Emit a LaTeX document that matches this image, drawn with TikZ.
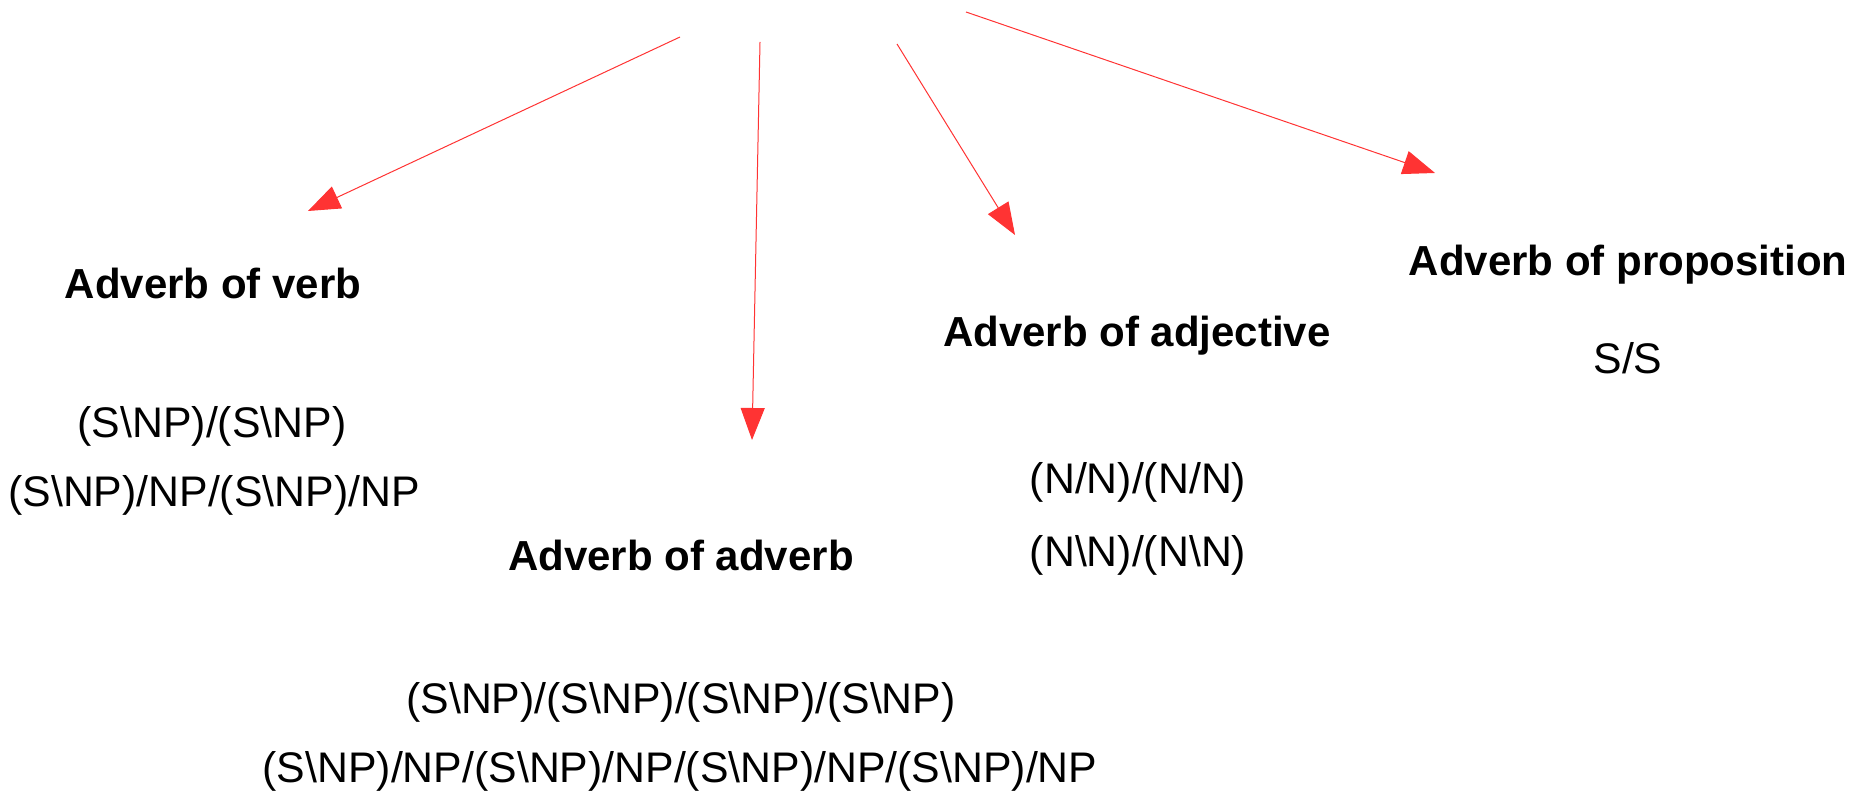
\documentclass[tikz,border=0pt]{standalone}
\usepackage{fontspec}
\setmainfont{Liberation Sans}
\usetikzlibrary{arrows.meta}
\definecolor{arrowred}{HTML}{FF3333}

\begin{document}
\begin{tikzpicture}[
          x=0.5pt, y=-0.5pt,
          title/.style = {font=\fontsize{21}{25}\selectfont\bfseries, inner sep=0pt},
          cat/.style = {font=\fontsize{21.4}{25}\selectfont, inner sep=0pt},
          arrow/.style = {draw=arrowred, line width=0.5pt, -{Triangle[length=16pt, width=12pt, fill=arrowred]}}
        ]
        \useasboundingbox (0,0) rectangle (1871,795);

        % Nodes
        \node[title] (verb) at (213,283) {Adverb of verb};
        \node[cat] (verbone) at (212,426) {(S\textbackslash NP)/(S\textbackslash NP)};
        \node[cat] (verbtwo) at (214,495) {(S\textbackslash NP)/NP/(S\textbackslash NP)/NP};

        \node[title] (adverb) at (681,555) {Adverb of adverb};
        \node[cat] (adverbone) at (681,702) {(S\textbackslash NP)/(S\textbackslash NP)/(S\textbackslash NP)/(S\textbackslash NP)};
        \node[cat] (adverbtwo) at (680,771) {(S\textbackslash NP)/NP/(S\textbackslash NP)/NP/(S\textbackslash NP)/NP/(S\textbackslash NP)/NP};

        \node[title] (adjective) at (1137,336) {Adverb of adjective};
        \node[cat] (adjone) at (1138,482) {(N/N)/(N/N)};
        \node[cat] (adjtwo) at (1138,555) {(N\textbackslash N)/(N\textbackslash N)};

        \node[title] (proposition) at (1628,265) {Adverb of proposition};
        \node[cat] (propone) at (1628,358) {S/S};

        % Arrow ends
        \coordinate (verbfrom) at (680,37);
        \coordinate (verbto) at (308,211);
        \coordinate (adverbfrom) at (760,42);
        \coordinate (adverbto) at (752,440);
        \coordinate (adjfrom) at (897,44);
        \coordinate (adjto) at (1015,235);
        \coordinate (propfrom) at (966,12);
        \coordinate (propto) at (1435,173);

        % Paths
        \draw[arrow] (verbfrom) -- (verbto);
        \draw[arrow] (adverbfrom) -- (adverbto);
        \draw[arrow] (adjfrom) -- (adjto);
        \draw[arrow] (propfrom) -- (propto);

      \end{tikzpicture}
\end{document}
